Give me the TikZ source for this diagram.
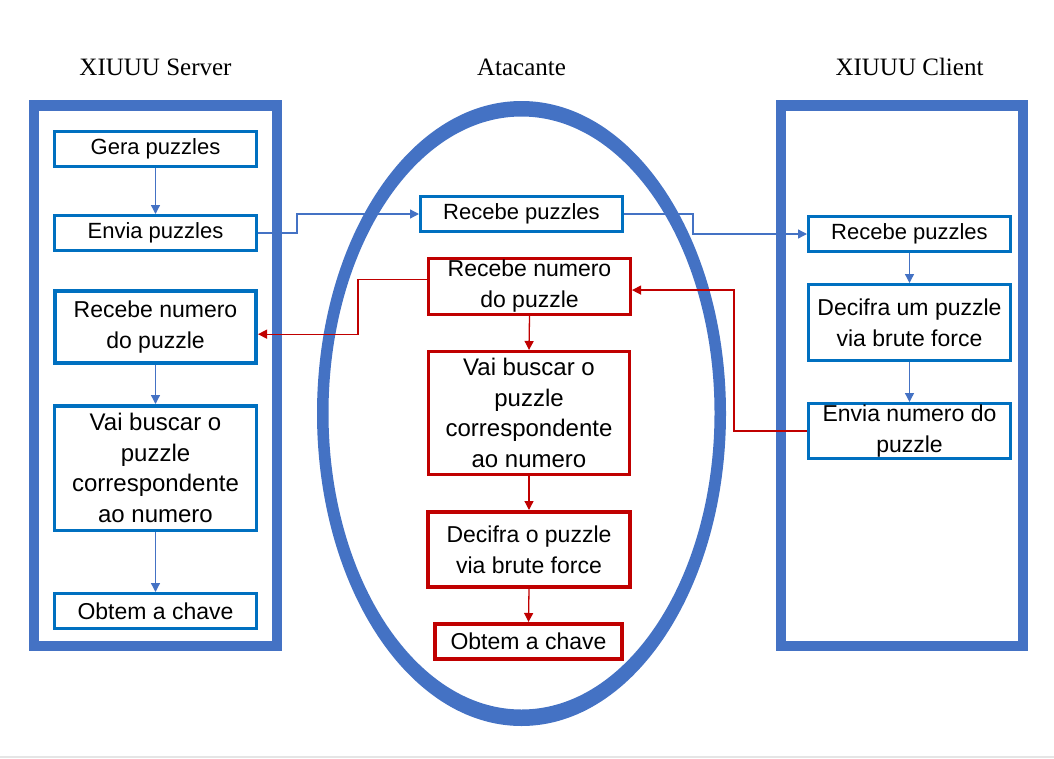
\documentclass[tikz,border=0pt]{standalone}
\usepackage{fontspec}
\usepackage{tikz}
\usetikzlibrary{arrows.meta}
\newfontfamily\boxFont{Liberation Sans}
\newfontfamily\titleFont{Liberation Serif}
\definecolor{frameColor}{RGB}{68,114,196}
\definecolor{boxBlue}{RGB}{0,112,192}
\definecolor{boxRed}{RGB}{192,0,0}
\tikzstyle{canvas} = [x = 1pt, y = -1pt]
\tikzstyle{frameLine} = [color=frameColor, line width=10.5]
\tikzstyle{titleText} = [font=\titleFont\fontsize{25}{30}\selectfont, anchor=base]
\tikzstyle{stepStyle} = [fill=white, text=black, inner sep=0, align=center, font=\boxFont\fontsize{23}{31}\selectfont]
\tikzstyle{smallText} = [font=\boxFont\fontsize{22}{30}\selectfont]
\tikzstyle{largeText} = [font=\boxFont\fontsize{24}{30.5}\selectfont]
\tikzstyle{serverStep} = [stepStyle, draw=boxBlue, line width=3]
\tikzstyle{attackStep} = [stepStyle, draw=boxRed, line width=3]
\tikzstyle{blueFlow} = [color=frameColor, line width=1.3, -{Triangle[length=9pt, width=9pt]}]
\tikzstyle{redFlow} = [color=boxRed, line width=1.3, -{Triangle[length=9pt, width=9pt]}]
\newcommand{\stepBox}[7]{\node [#1, minimum width = #5, minimum height = #6] (#2) at (#3, #4) {#7};}
\newcommand{\downArrow}[3]{\draw [#1] (#2.south) -- (#3.north);}
\newcommand{\elbowArrow}[4]{\draw [#1] (#2) -- ++(#3, 0) |- (#4);}

\begin{document}
\begin{tikzpicture}[canvas]
  \useasboundingbox (0, 0) rectangle (1054, 758);
  \fill [color=black!10] (0, 756) rectangle (1054, 758);

  % frames and titles
  \draw [frameLine] (34, 105.5) rectangle (277, 646);
  \draw [frameLine] (781, 105.5) rectangle (1023, 646);
  \fill [frameColor, even odd rule] (521.5, 413.5) ellipse [x radius = 204.5, y radius = 312.5]
    (521.5, 413) ellipse [x radius = 193, y radius = 296.5];
  \node [titleText] (serverTitle) at (155.5, 75) {XIUUU Server};
  \node [titleText] (attackTitle) at (521.5, 75) {Atacante};
  \node [titleText] (clientTitle) at (909.5, 75) {XIUUU Client};

  % server
  \stepBox{serverStep, smallText}{geraS}{155.5}{148.5}{202}{35}{Gera puzzles}
  \stepBox{serverStep, smallText}{enviaS}{155.5}{233}{202}{35}{Envia puzzles}
  \stepBox{serverStep, line width=4}{recNumS}{155.5}{327}{201}{72}{Recebe numero\\do puzzle}
  \stepBox{serverStep, largeText, line width=3.5}{buscaS}{155.5}{468}{202}{124.5}{Vai buscar o\\puzzle\\correspondente\\ao numero}
  \stepBox{serverStep}{chaveS}{155.5}{611}{202}{35}{Obtem a chave}

  % atacante
  \stepBox{serverStep, smallText}{recPuzA}{521.5}{214}{202}{35}{Recebe puzzles}
  \stepBox{attackStep}{recNumA}{529.5}{286.5}{202}{56}{Recebe numero\\do puzzle}
  \stepBox{attackStep, largeText}{buscaA}{529}{413}{201}{123}{Vai buscar o\\puzzle\\correspondente\\ao numero}
  \stepBox{attackStep, line width=4}{decifraA}{529}{549.5}{202}{75}{Decifra o puzzle\\via brute force}
  \stepBox{attackStep, line width=4}{chaveA}{528.5}{641.5}{187}{35}{Obtem a chave}

  % client
  \stepBox{serverStep, smallText}{recPuzC}{909.5}{234}{202}{35}{Recebe puzzles}
  \stepBox{serverStep}{decifraC}{909.5}{322.5}{202}{76}{Decifra um puzzle\\via brute force}
  \stepBox{serverStep}{enviaC}{909.5}{431}{202}{55}{Envia numero do\\puzzle}

  % fluxos
  \downArrow{blueFlow}{geraS}{enviaS}
  \downArrow{blueFlow}{recNumS}{buscaS}
  \downArrow{blueFlow}{buscaS}{chaveS}
  \downArrow{redFlow}{recNumA}{buscaA}
  \downArrow{redFlow}{buscaA}{decifraA}
  \downArrow{redFlow}{decifraA}{chaveA}
  \downArrow{blueFlow}{recPuzC}{decifraC}
  \downArrow{blueFlow}{decifraC}{enviaC}
  \elbowArrow{blueFlow}{enviaS.east}{39}{recPuzA.west}
  \elbowArrow{blueFlow}{recPuzA.east}{69}{recPuzC.west}
  \elbowArrow{redFlow}{enviaC.west}{-73}{recNumA.-2.3}
  \elbowArrow{redFlow}{recNumA.176.9}{-69}{recNumS.-4.5}
\end{tikzpicture}
\end{document}
